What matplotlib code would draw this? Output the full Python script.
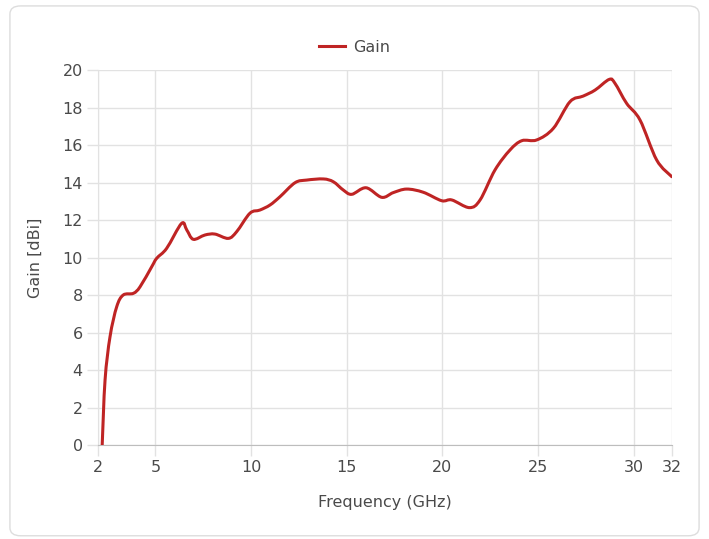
import numpy as np
import matplotlib.pyplot as plt
from matplotlib.patches import FancyBboxPatch, PathPatch
from matplotlib.path import Path
from matplotlib.lines import Line2D

# Gain curve
freq = [2.22, 2.37, 2.63, 2.98, 3.32, 3.85, 4.2, 4.81, 5.07, 5.59, 6.37, 6.64,
        6.98, 7.59, 8.11, 8.81, 9.25, 9.94, 10.46, 10.99, 11.51, 12.30, 12.91,
        13.78, 14.30, 14.82, 15.26, 16.01, 16.83, 17.43, 18.13, 19.00, 19.96,
        20.49, 21.41, 21.97, 22.75, 23.53, 24.15, 24.93, 25.80, 26.67, 27.36,
        27.98, 28.72, 29.02, 29.63, 30.33, 31.20, 31.99]
gain = [0.0, 3.47, 5.78, 7.38, 8.0, 8.09, 8.44, 9.51, 9.96, 10.49, 11.82, 11.47,
        10.97, 11.2, 11.25, 11.02, 11.38, 12.36, 12.53, 12.8, 13.24, 13.99, 14.13,
        14.19, 14.04, 13.6, 13.37, 13.72, 13.21, 13.46, 13.65, 13.48, 13.03,
        13.07, 12.66, 13.07, 14.67, 15.73, 16.23, 16.27, 16.89, 18.31, 18.61,
        18.93, 19.5, 19.29, 18.22, 17.33, 15.2, 14.31]

xticks = [2, 5, 10, 15, 20, 25, 30, 32]
yticks = list(range(0, 21, 2))

plt.rcParams['font.family'] = ['DejaVu Sans']
text_color = '#4a4a4a'
grid_color = '#e2e2e2'
line_color = '#bf2424'


def smooth_path(xs, ys, k=1 / 6):
    # Catmull-Rom style bezier through the points (like a chart "tension")
    p = np.column_stack([xs, ys])
    n = len(p)
    verts = [p[0]]
    codes = [Path.MOVETO]
    for i in range(n - 1):
        p0 = p[i - 1] if i > 0 else p[i]
        p3 = p[i + 2] if i + 2 < n else p[i + 1]
        c1 = p[i] + (p[i + 1] - p0) * k
        c2 = p[i + 1] - (p3 - p[i]) * k
        verts += [c1, c2, p[i + 1]]
        codes += [Path.CURVE4] * 3
    return Path(verts, codes)


fig = plt.figure(figsize=(7.09, 5.39), dpi=100)

# rounded card border
card = FancyBboxPatch((0.014, 0.006), 0.972, 0.983,
                      boxstyle='round,pad=0,rounding_size=0.015',
                      transform=fig.transFigure, facecolor='white',
                      edgecolor='#dddddd', linewidth=1.0, zorder=-10)
fig.patches.append(card)

ax = fig.add_axes([0.1382, 0.1744, 0.8096, 0.6957])
ax.set_facecolor('none')
ax.add_patch(PathPatch(smooth_path(freq, gain), facecolor='none',
                       edgecolor=line_color, linewidth=2.2, capstyle='round',
                       joinstyle='round', zorder=3))

ax.set_xlim(2, 32)
ax.set_ylim(0, 20)
ax.set_xticks(xticks)
ax.set_yticks(yticks)
ax.grid(True, color=grid_color, linewidth=1.0)
ax.set_axisbelow(True)

for s in ['top', 'right']:
    ax.spines[s].set_visible(False)
ax.spines['left'].set_color(grid_color)
ax.spines['bottom'].set_color('#bdbdbd')

ax.tick_params(axis='both', length=8, width=1.0, color=grid_color,
               labelsize=11.5, labelcolor=text_color, pad=3)

ax.set_xlabel('Frequency (GHz)', fontsize=11.5, color=text_color, labelpad=14)
ax.set_ylabel('Gain [dBi]', fontsize=11.5, color=text_color, labelpad=14)

handle = Line2D([], [], color=line_color, linewidth=2.2)
fig.legend([handle], ['Gain'], loc='center',
           bbox_to_anchor=(0.5, 1 - 47 / 539), frameon=False,
           fontsize=11.5, labelcolor=text_color, handlelength=1.6,
           handletextpad=0.5)

fig.savefig('out.png', dpi=100)
